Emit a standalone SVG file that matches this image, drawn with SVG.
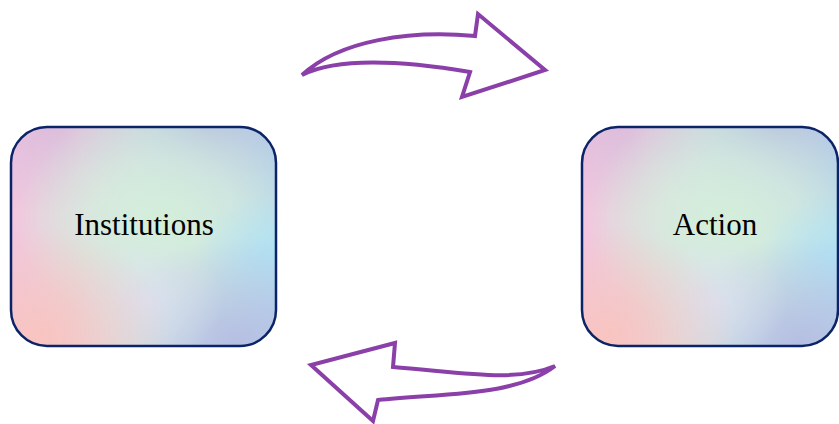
<svg xmlns="http://www.w3.org/2000/svg" width="839" height="424" viewBox="0 0 839 424">
<style>
.lbl{font-family:"Liberation Serif","Times New Roman",serif;font-size:31px;fill:#000;text-anchor:middle}
.border{fill:none;stroke:#0B2467;stroke-width:2.5}
.arrow{fill:#fff;stroke:#8A40A8;stroke-width:4;stroke-linejoin:miter}
</style>
<defs>
<linearGradient id="gBase" x1="0" y1="0" x2="1" y2="0">
<stop offset="0" stop-color="#F2C6DE"/>
<stop offset="0.5" stop-color="#D5EADF"/>
<stop offset="1" stop-color="#B6D9EE"/>
</linearGradient>
<radialGradient id="gGreen" cx="0.58" cy="0.42" r="0.55">
<stop offset="0" stop-color="#D3EEDA" stop-opacity="1"/>
<stop offset="0.5" stop-color="#D5ECDE" stop-opacity="0.7"/>
<stop offset="1" stop-color="#D3EEDA" stop-opacity="0"/>
</radialGradient>
<radialGradient id="gPeach" cx="0.1" cy="0.95" r="0.5">
<stop offset="0" stop-color="#F8C4C0" stop-opacity="1"/>
<stop offset="1" stop-color="#F8C4C0" stop-opacity="0"/>
</radialGradient>
<radialGradient id="gLav" cx="0.85" cy="1" r="0.5">
<stop offset="0" stop-color="#B6BEE2" stop-opacity="1"/>
<stop offset="1" stop-color="#B6BEE2" stop-opacity="0"/>
</radialGradient>
<radialGradient id="gTop" cx="0.75" cy="0" r="0.5">
<stop offset="0" stop-color="#B4BCDF" stop-opacity="0.9"/>
<stop offset="1" stop-color="#B4BCDF" stop-opacity="0"/>
</radialGradient>
<radialGradient id="gTL" cx="0.15" cy="0" r="0.4">
<stop offset="0" stop-color="#DAB8DC" stop-opacity="0.8"/>
<stop offset="1" stop-color="#DAB8DC" stop-opacity="0"/>
</radialGradient>
<radialGradient id="gCyan" cx="1" cy="0.6" r="0.3">
<stop offset="0" stop-color="#B0E2F4" stop-opacity="1"/>
<stop offset="1" stop-color="#B0E2F4" stop-opacity="0"/>
</radialGradient>
<radialGradient id="gMid" cx="0.5" cy="0.8" r="0.3">
<stop offset="0" stop-color="#DCE0F0" stop-opacity="0.9"/>
<stop offset="1" stop-color="#DCE0F0" stop-opacity="0"/>
</radialGradient>
</defs>

<g id="institutions">
<rect x="11" y="127" width="265" height="219" rx="36" fill="url(#gBase)"/>
<rect x="11" y="127" width="265" height="219" rx="36" fill="url(#gTop)"/>
<rect x="11" y="127" width="265" height="219" rx="36" fill="url(#gTL)"/>
<rect x="11" y="127" width="265" height="219" rx="36" fill="url(#gGreen)"/>
<rect x="11" y="127" width="265" height="219" rx="36" fill="url(#gCyan)"/>
<rect x="11" y="127" width="265" height="219" rx="36" fill="url(#gLav)"/>
<rect x="11" y="127" width="265" height="219" rx="36" fill="url(#gMid)"/>
<rect x="11" y="127" width="265" height="219" rx="36" fill="url(#gPeach)"/>
<rect x="11" y="127" width="265" height="219" rx="36" class="border"/>
<text x="144" y="235" class="lbl">Institutions</text>
</g>

<g id="action">
<rect x="582" y="127" width="256" height="219" rx="36" fill="url(#gBase)"/>
<rect x="582" y="127" width="256" height="219" rx="36" fill="url(#gTop)"/>
<rect x="582" y="127" width="256" height="219" rx="36" fill="url(#gTL)"/>
<rect x="582" y="127" width="256" height="219" rx="36" fill="url(#gGreen)"/>
<rect x="582" y="127" width="256" height="219" rx="36" fill="url(#gCyan)"/>
<rect x="582" y="127" width="256" height="219" rx="36" fill="url(#gLav)"/>
<rect x="582" y="127" width="256" height="219" rx="36" fill="url(#gMid)"/>
<rect x="582" y="127" width="256" height="219" rx="36" fill="url(#gPeach)"/>
<rect x="582" y="127" width="256" height="219" rx="36" class="border"/>
<text x="715" y="235" class="lbl">Action</text>
</g>

<g id="connectors">
<path class="arrow" d="M302,75 C340,40 410,30 475,36 L478,14 L545,70 L462,97 L470,72 C410,62 340,56 302,75 Z"/>
<path class="arrow" d="M555,366 C515,383 460,372 393,367 L395,343 L311,365 L373,421 L378,400 C440,393 515,397 555,366 Z"/>
</g>
</svg>
